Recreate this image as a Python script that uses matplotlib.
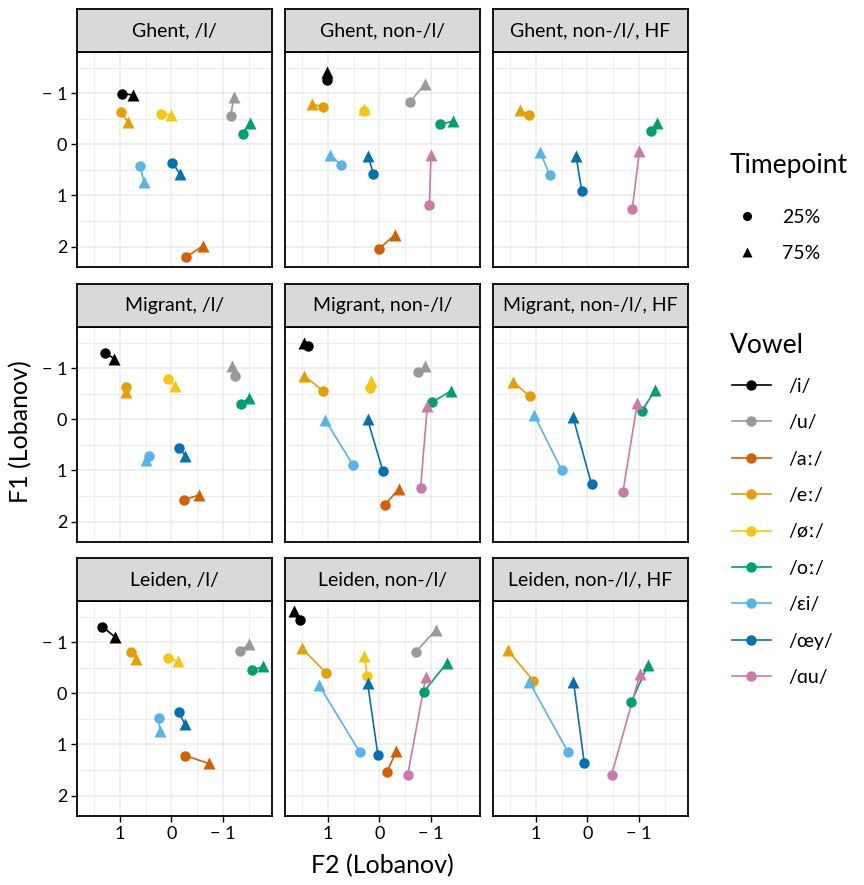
import numpy as np
import matplotlib
matplotlib.use("Agg")
import matplotlib.pyplot as plt
from matplotlib.lines import Line2D

plt.rcParams['font.family'] = ['Lato', 'DejaVu Sans']

nan = np.nan

# facets (row-major) and vowels
panels = ["Ghent, /l/", "Ghent, non-/l/", "Ghent, non-/l/, HF",
          "Migrant, /l/", "Migrant, non-/l/", "Migrant, non-/l/, HF",
          "Leiden, /l/", "Leiden, non-/l/", "Leiden, non-/l/, HF"]
vowels = ["/i/", "/u/", "/aː/", "/eː/", "/øː/", "/oː/", "/ɛi/", "/œy/", "/ɑu/"]
colors = ["#000000", "#999999", "#D55E00", "#E69F00", "#F5C710",
          "#009E73", "#56B4E9", "#0072B2", "#CC79A7"]

# F2 / F1 (Lobanov) at 25% and 75%, one row per panel, one column per vowel
f2_25 = np.array([
    [0.95, -1.15, -0.28, 0.97, 0.21, -1.39, 0.61, -0.02, nan],
    [1.01, -0.60, 0.00, 1.09, 0.30, -1.18, 0.75, 0.12, -0.97],
    [nan, nan, nan, 1.14, nan, -1.23, 0.73, 0.11, -0.87],
    [1.28, -1.24, -0.25, 0.88, 0.07, -1.36, 0.44, -0.14, nan],
    [1.38, -0.75, -0.10, 1.10, 0.18, -1.03, 0.51, -0.07, -0.80],
    [nan, nan, nan, 1.12, nan, -1.05, 0.50, -0.08, -0.69],
    [1.34, -1.34, -0.27, 0.78, 0.06, -1.57, 0.25, -0.14, nan],
    [1.55, -0.71, -0.15, 1.03, 0.24, -0.86, 0.38, 0.03, -0.55],
    [nan, nan, nan, 1.05, nan, -0.85, 0.38, 0.06, -0.47],
])
f1_25 = np.array([
    [-0.99, -0.55, 2.21, -0.64, -0.60, -0.21, 0.42, 0.36, nan],
    [-1.27, -0.84, 2.04, -0.73, -0.65, -0.40, 0.40, 0.57, 1.18],
    [nan, nan, nan, -0.58, nan, -0.26, 0.60, 0.91, 1.27],
    [-1.30, -0.86, 1.57, -0.64, -0.79, -0.31, 0.71, 0.55, nan],
    [-1.44, -0.92, 1.68, -0.56, -0.61, -0.34, 0.90, 1.02, 1.34],
    [nan, nan, nan, -0.45, nan, -0.16, 0.99, 1.27, 1.42],
    [-1.31, -0.84, 1.22, -0.82, -0.70, -0.45, 0.49, 0.36, nan],
    [-1.44, -0.82, 1.53, -0.40, -0.35, -0.03, 1.15, 1.20, 1.59],
    [nan, nan, nan, -0.25, nan, 0.17, 1.14, 1.37, 1.59],
])
f2_75 = np.array([
    [0.74, -1.21, -0.61, 0.85, 0.00, -1.52, 0.53, -0.16, nan],
    [1.01, -0.88, -0.30, 1.30, 0.29, -1.42, 0.95, 0.22, -1.00],
    [nan, nan, nan, 1.31, nan, -1.36, 0.92, 0.22, -1.01],
    [1.11, -1.17, -0.54, 0.89, -0.07, -1.51, 0.50, -0.27, nan],
    [1.47, -0.88, -0.38, 1.46, 0.16, -1.39, 1.05, 0.23, -0.93],
    [nan, nan, nan, 1.44, nan, -1.32, 1.03, 0.28, -0.97],
    [1.10, -1.50, -0.72, 0.69, -0.12, -1.78, 0.22, -0.26, nan],
    [1.66, -1.10, -0.33, 1.51, 0.29, -1.31, 1.17, 0.23, -0.90],
    [nan, nan, nan, 1.55, nan, -1.17, 1.13, 0.27, -1.02],
])
f1_75 = np.array([
    [-0.97, -0.92, 1.99, -0.44, -0.58, -0.42, 0.74, 0.57, nan],
    [-1.42, -1.18, 1.77, -0.79, -0.69, -0.45, 0.20, 0.22, 0.20],
    [nan, nan, nan, -0.68, nan, -0.43, 0.14, 0.23, 0.12],
    [-1.19, -1.05, 1.48, -0.53, -0.66, -0.43, 0.80, 0.71, nan],
    [-1.50, -1.04, 1.36, -0.86, -0.75, -0.56, 0.01, 0.00, -0.27],
    [nan, nan, nan, -0.74, nan, -0.58, -0.08, -0.05, -0.33],
    [-1.11, -0.97, 1.37, -0.67, -0.63, -0.53, 0.73, 0.60, nan],
    [-1.62, -1.25, 1.13, -0.89, -0.74, -0.60, -0.16, -0.21, -0.32],
    [nan, nan, nan, -0.85, nan, -0.55, -0.23, -0.23, -0.38],
])

W, H = 864, 885
fig = plt.figure(figsize=(W / 100, H / 100), dpi=100)

# shared limits with 5% expansion, both axes reversed
allx = np.concatenate([f2_25.ravel(), f2_75.ravel()])
ally = np.concatenate([f1_25.ravel(), f1_75.ravel()])
xmin, xmax = np.nanmin(allx), np.nanmax(allx)
ymin, ymax = np.nanmin(ally), np.nanmax(ally)
px = 0.05 * (xmax - xmin)
py = 0.05 * (ymax - ymin)

col_left = [77, 285, 493]
row_top = [52, 327, 601]
pw, ph, sh = 195, 215, 43


def fr(x0, y0, w, h):
    return [x0 / W, 1 - (y0 + h) / H, w / W, h / H]


grid_col = "#EBEBEB"
for k, name in enumerate(panels):
    r, c = divmod(k, 3)
    ax = fig.add_axes(fr(col_left[c], row_top[r], pw, ph))
    ax.set_xlim(xmax + px, xmin - px)
    ax.set_ylim(ymax + py, ymin - py)
    ax.set_xticks([1, 0, -1])
    ax.set_yticks([-1, 0, 1, 2])
    ax.set_xticks([1.5, 0.5, -0.5, -1.5], minor=True)
    ax.set_yticks([-1.5, -0.5, 0.5, 1.5], minor=True)
    ax.grid(True, which="major", color=grid_col, lw=1.1, zorder=0)
    ax.grid(True, which="minor", color=grid_col, lw=0.6, zorder=0)
    ax.set_axisbelow(True)
    ax.tick_params(which="major", direction="out", length=4, width=1, colors="black",
                   labelsize=13, pad=3)
    ax.tick_params(which="minor", length=0)
    ax.set_xticklabels(["1", "0", "\u2212 1"])
    ax.set_yticklabels(["\u2212 1", "0", "1", "2"])
    if c != 0:
        ax.tick_params(axis="y", left=False, labelleft=False)
    if r != 2:
        ax.tick_params(axis="x", bottom=False, labelbottom=False)
    for s in ax.spines.values():
        s.set_color("black")
        s.set_linewidth(1.3)

    for v in range(len(vowels)):
        if np.isnan(f2_25[k, v]):
            continue
        ax.plot([f2_25[k, v], f2_75[k, v]], [f1_25[k, v], f1_75[k, v]],
                color=colors[v], lw=1.2, zorder=2)
    for v in range(len(vowels)):
        if np.isnan(f2_25[k, v]):
            continue
        ax.plot(f2_25[k, v], f1_25[k, v], "o", color=colors[v], ms=7.5,
                mec="none", zorder=3)
        ax.plot(f2_75[k, v], f1_75[k, v], "^", color=colors[v], ms=9,
                mec="none", zorder=3)

    # facet strip
    sax = fig.add_axes(fr(col_left[c], row_top[r] - sh, pw, sh))
    sax.set_facecolor("#D9D9D9")
    sax.set_xticks([])
    sax.set_yticks([])
    for s in sax.spines.values():
        s.set_color("black")
        s.set_linewidth(1.3)
    sax.text(0.5, 0.5, name, ha="center", va="center", fontsize=14,
             transform=sax.transAxes)

fig.text(382 / W, 1 - 866 / H, "F2 (Lobanov)", ha="center", va="center", fontsize=18)
fig.text(21 / W, 1 - 432 / H, "F1 (Lobanov)", ha="center", va="center",
         rotation=90, fontsize=18)

# legends (titles drawn separately for spacing control)
fig.text(730 / W, 1 - 165 / H, "Timepoint", ha="left", va="center", fontsize=19)
fig.text(730 / W, 1 - 345 / H, "Vowel", ha="left", va="center", fontsize=19)

tp_handles = [Line2D([], [], ls="none", marker="o", color="black", ms=6.5, mec="none"),
              Line2D([], [], ls="none", marker="^", color="black", ms=7.5, mec="none")]
fig.legend(tp_handles, ["25%", "75%"],
           loc="upper left", bbox_to_anchor=(718 / W, 1 - 195 / H),
           frameon=False, fontsize=14, borderpad=0.2,
           handlelength=1.6, handletextpad=1.0, labelspacing=1.0)

v_handles = [Line2D([], [], color=col, lw=1.2, marker="o", ms=7.5, mec="none")
             for col in colors]
fig.legend(v_handles, vowels,
           loc="upper left", bbox_to_anchor=(718 / W, 1 - 364 / H),
           frameon=False, fontsize=14, borderpad=0.2,
           handlelength=2.0, handletextpad=0.9, labelspacing=1.0)

fig.savefig("out.png", dpi=100)
